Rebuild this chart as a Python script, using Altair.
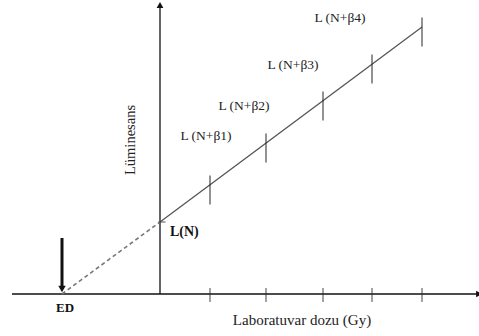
import altair as alt
import pandas as pd

# Additive-dose diagram: luminescence grows linearly with added laboratory dose,
# and the back-extrapolation to zero luminescence gives the equivalent dose ED.
doses = [1.0, 2.12, 3.26, 4.24, 5.24]          # added laboratory doses (Gy)
lum = [2.18, 3.02, 3.86, 4.60, 5.34]           # measured luminescence L(N+beta)
L_N = 1.44                                     # natural luminescence L(N)
ED = -1.96                                     # extrapolated equivalent dose

beta_labels = ["L (N+β1)", "L (N+β2)", "L (N+β3)", "L (N+β4)"]
label_x = [0.92, 1.68, 2.66, 3.60]
label_y = [3.16, 3.76, 4.58, 5.52]

x_min, x_max = -3.2, 6.38
y_min, y_max = -0.84, 5.88
x_axis_start = -2.96
y_axis_top = 5.78
arrow_top = 1.12

FONT = "'Liberation Serif', 'Times New Roman', Times, serif"

xs = alt.Scale(domain=[x_min, x_max], nice=False, zero=False)
ys = alt.Scale(domain=[y_min, y_max], nice=False, zero=False)


def X(field="x"):
    return alt.X(f"{field}:Q", scale=xs, axis=None)


def Y(field="y"):
    return alt.Y(f"{field}:Q", scale=ys, axis=None)


points = pd.DataFrame({"x": doses, "y": lum})

# horizontal axis with arrow at the right end
x_axis = alt.Chart(pd.DataFrame({"x": [x_axis_start], "x2": [x_max], "y": [0]})).mark_rule(
    color="#111", strokeWidth=1.3
).encode(x=X(), x2="x2:Q", y=Y())
x_arrow = alt.Chart(pd.DataFrame({"x": [x_max], "y": [0]})).mark_point(
    shape="triangle-right", filled=True, color="#111", size=45, opacity=1
).encode(x=X(), y=Y())

# vertical axis with arrow on top
y_axis = alt.Chart(pd.DataFrame({"x": [0], "y": [0], "y2": [y_axis_top]})).mark_rule(
    color="#111", strokeWidth=1.3
).encode(x=X(), y=Y(), y2="y2:Q")
y_arrow = alt.Chart(pd.DataFrame({"x": [0], "y": [y_axis_top]})).mark_point(
    shape="triangle-up", filled=True, color="#111", size=45, opacity=1
).encode(x=X(), y=Y())

# dose ticks on the horizontal axis
axis_ticks = alt.Chart(pd.DataFrame({"x": doses, "y": [0] * len(doses)})).mark_tick(
    orient="vertical", size=14, thickness=1.2, color="#222", yOffset=1
).encode(x=X(), y=Y())

# fitted growth line and its dashed back-extrapolation
fit = alt.Chart(pd.DataFrame({"x": [0, doses[-1]], "y": [L_N, lum[-1]]})).mark_line(
    color="#555", strokeWidth=1.3
).encode(x=X(), y=Y())
extrap = alt.Chart(pd.DataFrame({"x": [ED, 0], "y": [0, L_N]})).mark_line(
    color="#777", strokeWidth=1.6, strokeDash=[4, 3]
).encode(x=X(), y=Y())

# measurement ticks across the growth line
line_ticks = alt.Chart(points).mark_tick(
    orient="vertical", size=29, thickness=1.4, color="#222", yOffset=5
).encode(x=X(), y=Y())
ln_tick = alt.Chart(pd.DataFrame({"x": [0], "y": [L_N]})).mark_tick(
    orient="horizontal", size=7, thickness=1.2, color="#333", xOffset=2
).encode(x=X(), y=Y())

# arrow pointing down at ED
ed_shaft = alt.Chart(pd.DataFrame({"x": [ED], "y": [arrow_top], "y2": [0.14]})).mark_rule(
    color="#111", strokeWidth=3
).encode(x=X(), y=Y(), y2="y2:Q")
ed_head = alt.Chart(pd.DataFrame({"x": [ED], "y": [0.1]})).mark_point(
    shape="triangle-down", filled=True, color="#111", size=55, opacity=1
).encode(x=X(), y=Y())

# texts
beta_text = alt.Chart(pd.DataFrame({"x": label_x, "y": label_y, "t": beta_labels})).mark_text(
    font=FONT, fontSize=13.5, color="#222", align="center", baseline="middle"
).encode(x=X(), y=Y(), text="t:N")
ln_text = alt.Chart(pd.DataFrame({"x": [0], "y": [L_N], "t": ["L(N)"]})).mark_text(
    font=FONT, fontSize=14, fontWeight="bold", color="#111", align="left",
    baseline="middle", dx=10, dy=10
).encode(x=X(), y=Y(), text="t:N")
ed_text = alt.Chart(pd.DataFrame({"x": [ED], "y": [0], "t": ["ED"]})).mark_text(
    font=FONT, fontSize=13, fontWeight="bold", color="#111", align="center",
    baseline="middle", dx=3, dy=14
).encode(x=X(), y=Y(), text="t:N")
x_title = alt.Chart(pd.DataFrame({"x": [2.84], "y": [-0.52], "t": ["Laboratuvar dozu (Gy)"]})).mark_text(
    font=FONT, fontSize=15, color="#222", align="center", baseline="middle"
).encode(x=X(), y=Y(), text="t:N")
y_title = alt.Chart(pd.DataFrame({"x": [-0.58], "y": [3.08], "t": ["Lüminesans"]})).mark_text(
    font=FONT, fontSize=14.5, color="#222", align="center", baseline="middle", angle=270
).encode(x=X(), y=Y(), text="t:N")

chart = alt.layer(
    x_axis, x_arrow, y_axis, y_arrow, axis_ticks, extrap, fit, line_ticks, ln_tick,
    ed_shaft, ed_head, beta_text, ln_text, ed_text, x_title, y_title
).properties(
    width=479, height=336, padding=0, autosize=alt.AutoSizeParams(type="none"),
    background="white"
).configure_view(stroke=None)

chart.save("out.html", embed_options={"renderer": "svg", "actions": False})
